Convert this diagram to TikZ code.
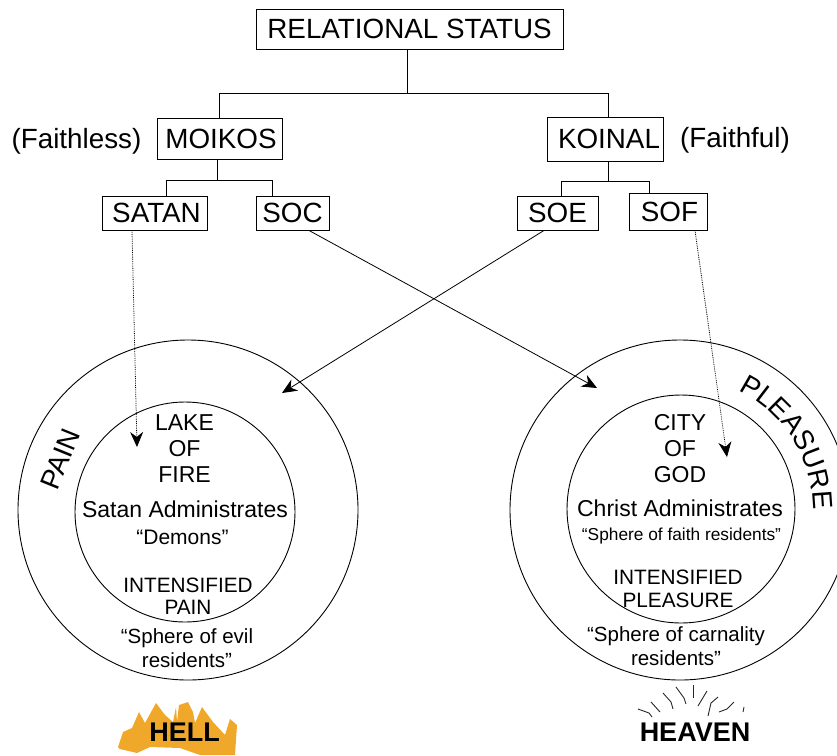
\documentclass[tikz,border=0pt]{standalone}
\usepackage{fontspec}
\setmainfont{Liberation Sans}
\usetikzlibrary{arrows.meta,decorations.text}
\newcommand{\fsz}[2]{\fontsize{#1pt}{#2pt}\selectfont}
\definecolor{hellcol}{RGB}{240,168,42}
\tikzset{
  boxnode/.style={draw,line width=0.9pt,inner sep=0pt,font=\fsz{27.8}{30}},
  lab/.style={inner sep=0pt,align=center},
  tree/.style={line width=0.9pt},
  ring/.style={draw,line width=0.9pt},
  solidarrow/.style={line width=0.8pt,-{Stealth[length=15pt,width=13pt]}},
  dotarrow/.style={line width=0.8pt,densely dotted,-{Stealth[length=15pt,width=13pt]}},
  ray/.style={line width=0.9pt,black!85},
}
\begin{document}
\begin{tikzpicture}[x=1pt,y=-1pt]
\useasboundingbox (0,0) rectangle (837,755);
\clip (0,0) rectangle (837,755);
% boxes
\node[boxnode,minimum width=307pt,minimum height=40pt] (root) at (409.5,29) {RELATIONAL STATUS};
\node[boxnode,minimum width=125pt,minimum height=41pt] (moikos) at (219.5,138.5) {\hspace{3pt}\raisebox{-1pt}{MOIKOS}};
\node[boxnode,minimum width=116pt,minimum height=44pt] (koinal) at (605,139) {\hspace{8pt}\raisebox{-3pt}{KOINAL}};
\node[boxnode,minimum width=105pt,minimum height=34pt] (satan) at (154.5,213) {\hspace{4pt}SATAN};
\node[boxnode,minimum width=73pt,minimum height=34pt] (soc) at (292.5,213) {SOC};
\node[boxnode,minimum width=81pt,minimum height=34pt] (soe) at (557.5,213) {SOE};
\node[boxnode,minimum width=78pt,minimum height=37pt] (sof) at (668,211.5) {\hspace{3pt}\raisebox{-2pt}{SOF}};
% side labels
\node[lab,font=\fsz{27.8}{30}] (faithless) at (76.5,141) {(Faithless)};
\node[lab,font=\fsz{27.8}{30}] (faithful) at (735,140) {(Faithful)};
% tree connectors
\coordinate (j0) at (407,93);
\coordinate (jl) at (219,93);
\coordinate (jr) at (608,93);
\coordinate (j1) at (217.5,180.5);
\coordinate (j1l) at (166,180.5);
\coordinate (j1r) at (272,180.5);
\coordinate (j2) at (608,181);
\coordinate (j2l) at (561,181);
\coordinate (j2r) at (649,181);
\draw[tree] (root.south -| j0) -- (j0);
\draw[tree] (moikos.north -| jl) -- (jl) -- (jr) -- (koinal.north -| jr);
\draw[tree] (moikos.south -| j1) -- (j1);
\draw[tree] (satan.north -| j1l) -- (j1l) -- (j1r) -- (soc.north -| j1r);
\draw[tree] (koinal.south -| j2) -- (j2);
\draw[tree] (soe.north -| j2l) -- (j2l) -- (j2r) -- (sof.north -| j2r);
% circles
\node[ring,circle,minimum size=340pt,inner sep=0pt] (outerL) at (188,510) {};
\node[ring,circle,minimum size=220pt,inner sep=0pt] (innerL) at (185,512) {};
\node[ring,circle,minimum size=340pt,inner sep=0pt] (outerR) at (680,510) {};
\node[ring,circle,minimum size=228pt,inner sep=0pt] (innerR) at (681,509) {};
% arrows
\coordinate (a1) at (137,447);
\coordinate (a2) at (597,388);
\coordinate (a3) at (282,393);
\coordinate (a4) at (727,457);
\draw[dotarrow] (satan.south -| 132,0) -- (a1);
\draw[solidarrow] (soc.south -| 309,0) -- (a2);
\draw[solidarrow] (soe.south -| 544,0) -- (a3);
\draw[dotarrow] (sof.south -| 695,0) -- (a4);
% left circle text
\node[font=\fsz{23}{26},align=center,inner sep=0pt] (lake) at (184.5,449) {LAKE\\OF\\FIRE};
\node[lab,font=\fsz{23}{26}] (satadm) at (185,509) {Satan Administrates};
\node[lab,font=\fsz{21}{22}] (demons) at (182.5,537) {“Demons”};
\node[font=\fsz{20.8}{22},align=center,inner sep=0pt] (ipain) at (188,596) {INTENSIFIED\\PAIN};
\node[font=\fsz{20.5}{24},align=center,inner sep=0pt] (evil) at (187,648.5) {“Sphere of evil\\residents”};
\node[font=\fsz{27.8}{30},rotate=68,inner sep=0pt] (pain) at (60,459) {PAIN};
% right circle text
\node[font=\fsz{23}{26},align=center,inner sep=0pt] (city) at (680,449) {CITY\\OF\\GOD};
\node[lab,font=\fsz{23}{26}] (chradm) at (680,508) {Christ Administrates};
\node[lab,font=\fsz{17.3}{20}] (faithres) at (681.5,536) {“Sphere of faith residents”};
\node[font=\fsz{20.8}{23},align=center,inner sep=0pt] (iplea) at (678,589) {INTENSIFIED\\PLEASURE};
\node[font=\fsz{20.5}{24},align=center,inner sep=0pt] (carn) at (676,646.5) {“Sphere of carnality\\residents”};
\path[postaction={decorate},decoration={text along path,text align=left,
  text={|\fsz{27.8}{30}|PLEASURE}}]
  (680,510) +(64:133pt) arc[start angle=64,end angle=-14,radius=133pt];
% hell
\fill[hellcol] (118,747) -- (123,732) -- (132,728) -- (139,712) -- (145,723) -- (156,703) -- (165,715) -- (173,722) -- (176,707) -- (177,722) -- (179,705) -- (188,702) -- (193,712) -- (195,723) -- (202,707) -- (213,722) -- (225,735) -- (230,719) -- (237,725) -- (235,755) -- (200,755) -- (180,748) -- (150,747) -- (137,753) -- (120,749) -- cycle;
\node[font=\bfseries\fsz{27}{30},inner sep=0pt] (hell) at (184.5,732) {HELL};
% heaven
\draw[ray] (638,709) -- (649,713) -- (652,717);
\draw[ray] (651,702) -- (660,712);
\draw[ray] (663,693) -- (671,702) -- (673,709);
\draw[ray] (676,687) -- (684,698) -- (686,704);
\draw[ray] (693,685) -- (693,698);
\draw[ray] (707,691) -- (698,706);
\draw[ray] (718,697) -- (711,703) -- (708,716);
\draw[ray] (734,702) -- (727,709) -- (719,712);
\draw[ray] (744,707) -- (743,712);
\node[font=\bfseries\fsz{27}{30},inner sep=0pt] (heaven) at (695,732) {HEAVEN};
\end{tikzpicture}
\end{document}
